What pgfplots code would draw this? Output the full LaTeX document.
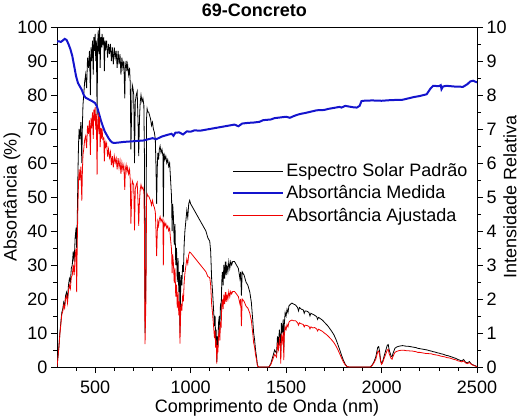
\documentclass[border=0pt]{standalone}
\usepackage{fontspec}
\setmainfont{Liberation Sans}
\usepackage{pgfplots}
\usepackage{pgfplotstable}
\pgfplotsset{compat=1.18}
\definecolor{mblue}{RGB}{20,20,205}
\definecolor{mred}{RGB}{240,0,0}

\pgfplotstableread{
nm I
300 0
305 0.3
310 0.6
315 1.0
320 1.3
325 1.6
330 1.7
335 1.9
340 1.8
345 2.1
350 2.2
355 2.0
360 2.4
365 2.6
370 2.5
375 2.9
380 3.0
385 3.4
390 3.1
395 3.8
400 4.1
403 3.5
406 4.3
410 5.8
413 6.6
416 7.0
420 6.7
425 7.2
430 6.0
433 7.1
436 7.7
440 8.0
445 8.4
450 8.6
455 8.2
460 9.1
465 8.8
470 9.3
475 8.0
478 9.4
482 9.0
486 9.6
490 8.6
493 9.7
496 9.3
500 9.8
503 9.0
506 9.6
510 7.4
513 9.5
516 9.9
520 9.2
523 10.0
526 8.8
530 9.7
533 9.4
536 9.8
540 9.5
545 9.7
548 8.7
552 9.6
556 9.4
560 9.6
565 9.1
570 9.5
575 9.2
580 9.5
585 9.0
590 9.4
595 8.9
600 9.4
605 9.1
610 9.3
615 8.8
620 9.3
625 8.9
630 9.2
635 8.6
640 9.1
645 8.8
650 9.0
655 7.9
658 8.8
662 9.0
666 8.7
670 8.9
675 8.6
680 8.8
684 8.3
687 6.4
690 7.2
694 8.3
698 8.2
702 8.0
706 6.0
710 7.8
715 8.0
720 8.1
725 7.1
728 6.2
732 7.3
736 7.8
740 8.0
745 7.8
750 7.9
755 7.7
758 6.2
761 1.0
763 1.8
766 3.0
769 7.3
772 7.6
776 7.5
780 7.5
785 7.4
790 7.3
795 7.1
800 7.2
805 7.0
810 6.9
815 6.7
818 6.0
822 4.8
825 5.8
828 6.3
832 6.1
836 6.4
840 6.5
845 6.3
850 6.4
855 6.2
857 4.4
860 6.3
865 6.1
870 6.2
875 6.0
880 6.1
885 5.9
890 6.0
895 5.5
900 5.0
903 4.0
906 4.8
910 4.4
914 3.6
918 4.2
922 3.0
926 3.5
930 2.5
934 3.2
938 2.2
942 2.8
944 1.0
948 2.4
950 2.7
954 2.4
958 3.0
962 2.8
966 3.6
970 4.0
975 4.3
980 4.6
985 4.4
990 4.8
995 4.9
1000 4.8
1010 4.7
1020 4.6
1030 4.5
1040 4.4
1050 4.3
1060 4.2
1070 4.1
1080 4.0
1090 3.8
1100 3.7
1105 3.4
1110 2.6
1115 2.2
1120 1.7
1125 1.2
1128 1.5
1131 0.8
1134 1.1
1137 0.15
1140 0.9
1143 0.6
1146 1.3
1150 1.5
1153 1.1
1156 1.8
1160 1.7
1163 2.5
1166 2.8
1170 2.4
1174 3.0
1178 2.6
1182 3.1
1186 2.7
1190 3.0
1195 2.8
1200 3.1
1205 2.9
1210 3.1
1215 3.0
1220 3.1
1230 3.1
1240 3.0
1250 2.9
1258 2.6
1262 2.8
1266 2.1
1270 2.8
1280 2.7
1290 2.5
1300 2.4
1310 2.2
1318 1.9
1325 1.4
1330 1.0
1335 0.8
1340 0.5
1345 0.3
1350 0.05
1355 0
1410 0
1420 0.1
1430 0.3
1440 0.5
1450 0.4
1455 0.9
1460 0.7
1465 1.1
1470 0.8
1472 0.3
1475 1.3
1480 1.0
1485 1.4
1488 0.5
1490 1.2
1495 1.6
1500 1.5
1505 1.7
1510 1.6
1515 1.8
1520 1.83
1530 1.88
1540 1.85
1550 1.82
1560 1.75
1565 1.65
1570 1.75
1580 1.7
1590 1.68
1595 1.58
1600 1.65
1610 1.64
1620 1.6
1625 1.5
1630 1.58
1640 1.55
1650 1.52
1660 1.48
1665 1.4
1670 1.46
1680 1.42
1690 1.38
1700 1.32
1710 1.26
1720 1.2
1730 1.12
1740 1.04
1750 0.95
1760 0.83
1770 0.68
1780 0.52
1790 0.35
1800 0.2
1810 0.08
1820 0.01
1830 0
1940 0
1950 0.05
1960 0.15
1970 0.3
1980 0.58
1985 0.6
1990 0.45
1995 0.2
2000 0.1
2005 0.15
2010 0.25
2020 0.45
2030 0.64
2035 0.66
2040 0.5
2050 0.32
2055 0.3
2060 0.4
2070 0.55
2080 0.59
2090 0.61
2100 0.62
2110 0.63
2120 0.62
2130 0.61
2140 0.61
2150 0.6
2160 0.59
2170 0.58
2180 0.57
2190 0.55
2200 0.54
2210 0.53
2220 0.52
2230 0.51
2240 0.5
2250 0.48
2260 0.47
2270 0.45
2280 0.44
2290 0.42
2300 0.41
2310 0.39
2320 0.38
2330 0.36
2340 0.34
2350 0.33
2360 0.31
2370 0.29
2380 0.27
2390 0.25
2400 0.22
2410 0.2
2420 0.18
2430 0.22
2440 0.14
2450 0.12
2460 0.16
2470 0.09
2480 0.06
2490 0.04
2500 0.01
}\solar

\pgfplotstableread{
nm A
300 95.7
310 95.8
320 95.6
330 96.0
340 96.5
350 96.2
360 95.0
370 93.5
380 91.5
390 88.5
400 85.5
410 83.5
420 82.5
430 81.5
440 80.0
450 79.2
460 78.9
470 78.6
480 78.3
490 78.0
500 77.6
510 76.5
520 74.5
530 72.5
540 70.8
550 69.3
560 68.3
570 67.3
580 66.5
590 66.0
600 65.9
620 66.0
650 66.2
700 66.4
750 66.6
800 67.3
820 67.0
850 67.8
880 68.3
900 68.6
910 68.0
920 68.9
940 69.0
960 68.4
980 69.3
1000 69.2
1020 69.6
1050 69.5
1080 69.8
1100 70.0
1130 70.3
1150 70.5
1180 70.8
1200 71.0
1230 71.3
1250 70.8
1270 71.6
1300 71.8
1330 71.9
1360 72.1
1380 72.6
1400 72.7
1420 72.8
1440 73.2
1470 73.4
1500 73.6
1520 73.3
1540 73.8
1560 74.2
1580 74.5
1600 74.7
1630 75.1
1660 75.5
1700 75.6
1720 75.9
1750 76.2
1780 76.5
1790 76.3
1810 76.8
1830 76.6
1850 76.4
1870 76.3
1885 76.8
1895 78.2
1905 78.3
1950 78.4
2000 78.3
2050 78.5
2110 78.6
2140 79.0
2170 79.4
2200 79.7
2236 80.2
2255 81.8
2270 82.7
2300 82.6
2310 82.9
2314 81.7
2322 82.5
2340 82.7
2380 82.5
2427 82.4
2450 83.2
2465 84.0
2480 84.2
2500 83.7
}\absmed

\pgfplotstableread{
nm R
300 0
305 2.9
310 5.8
315 9.6
320 12.5
325 15.4
330 16.3
335 18.2
340 17.3
345 20.1
350 20.9
355 18.8
360 22.3
365 24.1
370 23.0
375 26.4
380 27.0
385 30.1
390 27.0
395 32.7
400 34.9
403 22.0
406 36.3
410 48.4
413 54.8
416 58.1
420 54.9
425 58.9
430 48.9
433 57.5
436 62.4
440 64.0
445 66.8
450 67.9
455 64.4
460 71.0
465 68.6
470 72.5
475 62.4
478 73.3
482 70.2
486 74.9
490 67.1
493 75.7
496 72.5
500 76.4
503 69.8
506 74.4
510 56.6
513 71.7
516 74.7
520 68.5
523 73.5
526 64.7
530 70.3
533 67.2
536 70.1
540 67.0
545 67.4
548 60.5
552 66.2
556 64.9
560 65.8
565 61.9
570 64.1
575 61.6
580 63.2
585 59.4
590 62.0
595 58.7
600 62.0
605 60.1
610 61.4
615 58.1
620 61.4
625 58.7
630 60.7
635 56.8
640 60.1
645 58.1
650 59.4
655 52.1
658 58.1
662 59.4
666 57.4
670 58.7
675 56.8
680 58.1
684 54.8
687 42.2
690 47.5
694 54.8
698 54.1
702 53.6
706 40.2
710 52.3
715 53.6
720 54.3
725 47.6
728 41.5
732 48.9
736 52.3
740 53.6
745 52.3
750 52.9
755 51.6
758 41.5
761 6.7
763 12.0
766 20.1
769 48.9
772 50.9
776 50.3
780 50.3
785 49.6
790 48.9
795 47.6
800 49.0
805 47.6
810 46.9
815 45.6
818 40.8
822 32.6
825 39.4
828 42.8
832 41.5
836 43.5
840 44.2
845 42.8
850 43.5
855 42.2
857 29.9
860 42.8
865 41.5
870 42.2
875 40.8
880 41.5
885 40.1
890 40.8
895 37.4
900 34.5
903 27.6
906 33.1
910 30.4
914 24.8
918 29.0
922 20.7
926 24.2
930 17.3
934 22.1
938 15.2
942 19.3
944 6.9
948 16.6
950 18.6
954 16.6
958 20.7
962 19.3
966 24.8
970 27.6
975 29.7
980 31.7
985 30.4
990 33.1
995 33.8
1000 33.6
1010 32.9
1020 32.2
1030 31.5
1040 30.8
1050 30.1
1060 29.4
1070 28.7
1080 28.0
1090 26.6
1100 26.3
1105 24.1
1110 18.5
1115 15.6
1120 12.1
1125 8.5
1128 10.7
1131 5.7
1134 7.8
1137 1.0
1140 6.4
1143 4.3
1146 9.2
1150 10.7
1153 7.8
1156 12.8
1160 12.1
1163 17.8
1166 19.9
1170 17.0
1174 21.3
1178 18.5
1182 22.0
1186 19.2
1190 21.3
1195 19.9
1200 22.2
1205 20.7
1210 22.2
1215 21.5
1220 22.2
1230 22.2
1240 21.5
1250 20.7
1258 18.6
1262 20.0
1266 12.0
1270 20.0
1280 19.3
1290 17.9
1300 17.3
1310 15.8
1318 13.7
1325 10.1
1330 7.2
1335 5.8
1340 3.6
1345 2.2
1350 0.4
1355 0
1410 0
1420 0.7
1430 2.2
1440 3.7
1450 2.9
1455 6.6
1460 5.1
1465 8.1
1470 5.9
1472 1.0
1475 9.6
1480 7.4
1485 10.3
1488 2.0
1490 8.8
1495 11.8
1500 11.0
1505 12.5
1510 11.8
1515 13.2
1520 13.5
1530 13.8
1540 13.6
1550 13.6
1560 13.0
1565 12.3
1570 13.0
1580 12.7
1590 12.5
1595 11.8
1600 12.3
1610 12.2
1620 11.9
1625 11.2
1630 11.8
1640 11.5
1650 11.6
1660 11.2
1665 10.6
1670 11.1
1680 10.8
1690 10.5
1700 10.0
1710 9.6
1720 9.1
1730 8.5
1740 7.9
1750 7.2
1760 6.3
1770 5.2
1780 4.0
1790 2.7
1800 1.5
1810 0.6
1820 0.1
1830 0
1940 0
1950 0.4
1960 1.2
1970 2.3
1980 4.5
1985 4.7
1990 3.5
1995 1.6
2000 0.8
2005 1.2
2010 2.0
2020 3.5
2030 5.0
2035 5.2
2040 3.9
2050 2.5
2055 2.3
2060 3.1
2070 4.3
2080 4.6
2090 4.8
2100 4.9
2110 4.9
2120 4.9
2130 4.8
2140 4.8
2150 4.7
2160 4.7
2170 4.6
2180 4.5
2190 4.3
2200 4.3
2210 4.2
2220 4.1
2230 4.0
2240 4.0
2250 3.9
2260 3.9
2270 3.7
2280 3.6
2290 3.5
2300 3.4
2310 3.2
2320 3.1
2330 3.0
2340 2.8
2350 2.7
2360 2.6
2370 2.4
2380 2.2
2390 2.1
2400 1.8
2410 1.7
2420 1.5
2430 1.8
2440 1.2
2450 1.0
2460 1.3
2470 0.8
2480 0.5
2490 0.3
2500 0.1
}\absaj

\begin{document}
\begin{tikzpicture}
\pgfplotsset{
  common/.style={
    scale only axis, width=420pt, height=340pt,
    xmin=300, xmax=2500,
    tick align=outside,
    major tick length=6pt, minor tick length=3.5pt,
    /pgf/number format/assume math mode=true,
    /pgf/number format/1000 sep={},
    tick label style={font=\fontsize{18}{21}\selectfont},
    every tick/.style={black, line width=0.6pt},
    axis line style={line width=0.8pt},
  }
}
\begin{axis}[common,
  axis y line*=right, axis x line=none,
  ymin=0, ymax=10, ytick={0,1,...,10},
  minor ytick={0.5,1.5,...,9.5},
  ylabel={Intensidade Relativa},
  every axis y label/.style={at={([xshift=33pt]axis description cs:1,0.5)}, anchor=center, rotate=90, font=\fontsize{18}{21}\selectfont},
]
\addplot[black, line width=0.8pt] table[x=nm, y=I] {\solar};
\end{axis}
\begin{axis}[common,
  ymin=0, ymax=100, ytick={0,10,...,100},
  minor ytick={5,15,...,95},
  xtick={500,1000,...,2500},
  minor xtick={400,600,700,800,900,1100,1200,1300,1400,1600,1700,1800,1900,2100,2200,2300,2400},
  xtick pos=left, ytick pos=left,
  xticklabel style={yshift=-4pt},
  xlabel={Comprimento de Onda (nm)},
  ylabel={Absortância (\%)},
  every axis x label/.style={at={([yshift=-45pt]axis description cs:0.5,0)}, anchor=base, font=\fontsize{18}{21}\selectfont},
  every axis y label/.style={at={([xshift=-45pt]axis description cs:0,0.5)}, anchor=center, rotate=90, font=\fontsize{18}{21}\selectfont},
  title={69-Concreto},
  every axis title/.style={at={([yshift=10pt]axis description cs:0.47,1)}, anchor=base, font=\fontsize{18}{21}\selectfont\bfseries},
  legend style={at={(0.41,0.61)}, anchor=north west, draw=none, fill=none,
    font=\fontsize{18}{21}\selectfont, row sep=3.5pt},
  legend cell align=left,
  legend image code/.code={\draw[#1] (0pt,0pt) -- (50pt,0pt);},
]
\addlegendimage{black, line width=0.8pt}
\addlegendentry{Espectro Solar Padrão}
\addplot[mblue, line width=2pt] table[x=nm, y=A] {\absmed};
\addlegendentry{Absortância Medida}
\addplot[mred, line width=0.8pt] table[x=nm, y=R] {\absaj};
\addlegendentry{Absortância Ajustada}
\end{axis}
\pgfresetboundingbox
\path[use as bounding box] (-57pt,-50pt) rectangle (464pt,367pt);
\end{tikzpicture}
\end{document}
